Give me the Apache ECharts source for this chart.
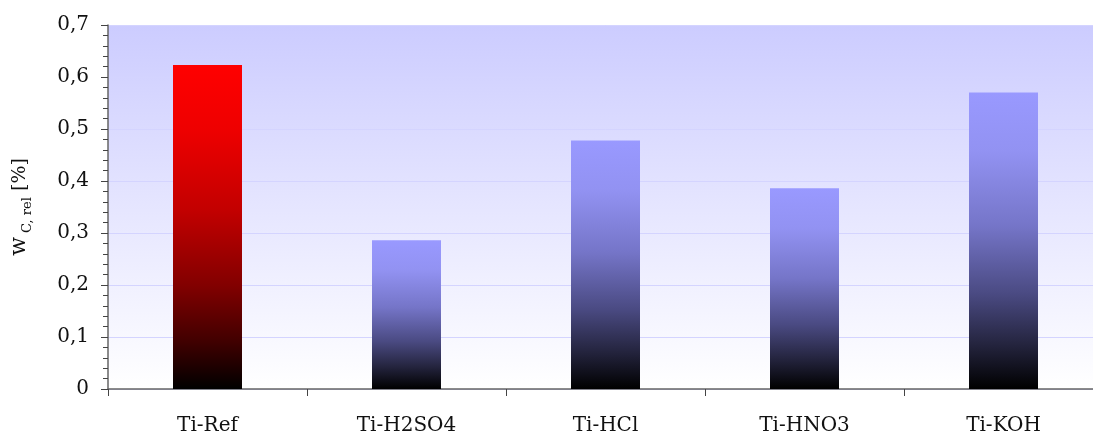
<!DOCTYPE html>
<html><head><meta charset="utf-8">
<script src="https://cdn.jsdelivr.net/npm/echarts@6/dist/echarts.min.js"></script>
<style>html,body{margin:0;padding:0;background:#fff;overflow:hidden;width:1093px;height:436px}#c{width:1103px;height:436px}</style>
</head><body><div id="c"></div>
<script>
const categories = ['Ti-Ref', 'Ti-H2SO4', 'Ti-HCl', 'Ti-HNO3', 'Ti-KOH'];
const values = [0.623, 0.286, 0.478, 0.386, 0.570];
const yTicks = [0, 0.1, 0.2, 0.3, 0.4, 0.5, 0.6, 0.7];

const FONT = 'DejaVu Serif';
function grad(stops) {
  return new echarts.graphic.LinearGradient(0, 0, 0, 1, stops.map(s => ({offset: s[0], color: s[1]})));
}
const redGrad = grad([[0,'#ff0000'],[0.2,'#ee0000'],[0.45,'#c20000'],[0.68,'#820000'],[0.85,'#420000'],[1,'#000000']]);
const blueGrad = grad([[0,'#9999ff'],[0.2,'#9292f2'],[0.45,'#7575c8'],[0.68,'#4a4a82'],[0.85,'#24243e'],[1,'#000000']]);

const chart = echarts.init(document.getElementById('c'));
chart.setOption({
  animation: false,
  grid: {
    left: 107, top: 25, right: 0, height: 365,
    show: true, borderWidth: 0,
    backgroundColor: grad([[0,'#ccccff'],[1,'#ffffff']])
  },
  xAxis: {
    type: 'category', data: categories,
    axisLine: {lineStyle: {color: '#666666', width: 1.5}},
    axisTick: {show: true, length: 7, alignWithLabel: false, lineStyle: {color: '#444'}},
    axisLabel: {fontFamily: FONT, fontSize: 20, color: '#111', margin: 27},
    splitLine: {show: false}
  },
  yAxis: {
    type: 'value', min: 0, max: 0.7, interval: 0.1,
    axisLine: {show: true, lineStyle: {color: '#666666', width: 1.5}},
    axisTick: {show: true, length: 7, inside: false, lineStyle: {color: '#444'}},
    minorTick: {show: true, splitNumber: 5, length: 5, lineStyle: {color: '#444'}},
    axisLabel: {
      fontFamily: FONT, fontSize: 20, color: '#111', margin: 19,
      formatter: v => { const t = yTicks.find(x => Math.abs(x - v) < 1e-9); return (t === 0 ? '0' : t.toFixed(1).replace('.', ',')); }
    },
    splitLine: {show: true, lineStyle: {color: '#d4d4ff', width: 1}},
    name: '{w|w}{s| C, rel}{p| [%]}',
    nameLocation: 'middle', nameGap: 78, nameRotate: 90,
    nameTextStyle: {
      fontFamily: FONT, color: '#111', padding: [0, 0, 0, 0],
      rich: {
        w: {fontFamily: FONT, fontSize: 22, color: '#111', lineHeight: 28, verticalAlign: 'bottom'},
        s: {fontFamily: FONT, fontSize: 13, color: '#111', lineHeight: 28, verticalAlign: 'bottom', padding: [0,0,-4,0]},
        p: {fontFamily: FONT, fontSize: 19, color: '#111', lineHeight: 28, verticalAlign: 'bottom'}
      }
    }
  },
  series: [{
    type: 'bar', barWidth: 69,
    data: values.map((v, i) => ({value: v, itemStyle: {color: i === 0 ? redGrad : blueGrad}}))
  }]
});
</script></body></html>
